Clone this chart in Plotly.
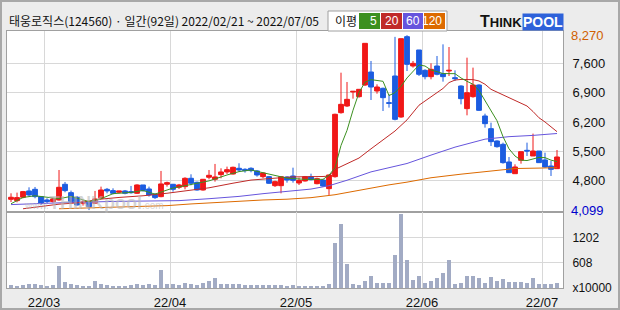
import plotly.graph_objects as go

# ---------------- data ----------------
month_days = {
    "2022-02": [21, 22, 23, 24, 25, 28],
    "2022-03": [2, 3, 4, 7, 8, 10, 11, 14, 15, 16, 17, 18, 21, 22, 23, 24, 25, 28, 29, 30, 31],
    "2022-04": [1, 4, 5, 6, 7, 8, 11, 12, 13, 14, 15, 18, 19, 20, 21, 22, 25, 26, 27, 28, 29],
    "2022-05": [2, 3, 4, 6, 9, 10, 11, 12, 13, 16, 17, 18, 19, 20, 23, 24, 25, 26, 27, 30, 31],
    "2022-06": [2, 3, 7, 8, 9, 10, 13, 14, 15, 16, 17, 20, 21, 22, 23, 24, 27, 28, 29, 30],
    "2022-07": [1, 4, 5],
}
month_labels = ["22/03", "22/04", "22/05", "22/06", "22/07"]

opens = [4356, 4324, 4404, 4555, 4594, 4420, 4340, 4300, 4340, 4714,
         4515, 4404, 4261, 4284, 4261, 4380, 4594, 4563, 4523, 4555,
         4539, 4499, 4698, 4602, 4475, 4420, 4714, 4714, 4642, 4658,
         4857, 4761, 4578, 4881, 4833, 4944, 5008, 4960, 5095, 5071,
         5095, 5032, 4896, 4896, 4681, 4681, 4888, 4912, 4745, 4793,
         4896, 4729, 4816, 4610, 4896, 6422, 6581, 6915, 6804, 7082,
         7392, 6939, 7003, 6661, 7297, 6319, 8235, 7535, 7917, 7432,
         7281, 7535, 7352, 7416, 7257, 7058, 6518, 6804, 7082, 6343,
         6041, 5747, 5667, 5246, 4967, 5286, 5524, 5389, 5508, 5294,
         5150, 5087]
highs = [4499, 4515, 4555, 4642, 4650, 4435, 4380, 4380, 5055, 4769,
         4563, 4435, 4340, 4316, 4555, 4658, 4626, 4618, 4555, 4578,
         4674, 4714, 4698, 4658, 4499, 5032, 4777, 4722, 4722, 4881,
         4952, 4777, 4841, 5055, 5199, 5095, 5135, 5135, 5215, 5095,
         5119, 5055, 5000, 4913, 4800, 4904, 4904, 5110, 4872, 4912,
         4967, 4872, 4832, 4952, 6398, 7376, 7154, 6931, 6979, 8076,
         7655, 7098, 7019, 6860, 8230, 8187, 8270, 7655, 7917, 7456,
         7599, 7774, 8052, 7988, 7432, 7074, 7734, 7496, 7098, 6398,
         6184, 5763, 5707, 5365, 5190, 5492, 5707, 5922, 5508, 5468,
         5270, 5532]
lows = [4292, 4284, 4380, 4420, 4380, 4221, 4261, 4276, 4324, 4523,
        4276, 4205, 4205, 4099, 4245, 4356, 4499, 4475, 4499, 4475,
        4491, 4483, 4539, 4420, 4364, 4404, 4658, 4539, 4602, 4594,
        4690, 4563, 4563, 4833, 4777, 4857, 4960, 4944, 5016, 4992,
        5000, 4896, 4857, 4722, 4650, 4498, 4753, 4753, 4697, 4780,
        4808, 4713, 4649, 4459, 4872, 6398, 6557, 6756, 6780, 7058,
        6724, 6875, 6462, 6542, 6239, 6300, 7416, 7496, 7297, 7217,
        7217, 7313, 7162, 7297, 7178, 6621, 6359, 6780, 6462, 6065,
        5627, 5588, 5206, 4991, 4967, 5206, 5389, 5389, 5230, 5111,
        4912, 5087]
closes = [4404, 4396, 4539, 4459, 4420, 4261, 4300, 4364, 4642, 4563,
          4300, 4221, 4284, 4181, 4364, 4578, 4555, 4499, 4555, 4499,
          4515, 4698, 4563, 4459, 4396, 4722, 4753, 4594, 4698, 4857,
          4738, 4578, 4833, 4928, 4889, 5008, 5063, 5119, 5055, 5040,
          5040, 4936, 4984, 4738, 4777, 4896, 4816, 4808, 4808, 4896,
          4824, 4848, 4673, 4936, 6383, 6621, 6740, 6931, 6979, 8076,
          7034, 7034, 6780, 6645, 6263, 8187, 7575, 7599, 7337, 7281,
          7456, 7337, 7281, 7432, 7233, 6756, 6899, 7082, 6478, 6160,
          5731, 5611, 5230, 4991, 5127, 5492, 5508, 5508, 5230, 5127,
          5071, 5365]
volumes = [64, 40, 64, 88, 88, 64, 40, 64, 520, 136,
           88, 64, 40, 40, 160, 88, 64, 40, 40, 40,
           64, 88, 64, 88, 64, 424, 88, 88, 64, 112,
           88, 64, 112, 160, 232, 88, 88, 88, 88, 64,
           64, 64, 64, 64, 64, 64, 40, 64, 40, 40,
           40, 40, 40, 88, 1072, 1528, 568, 88, 64, 160,
           280, 112, 112, 112, 784, 1768, 664, 184, 280, 112,
           160, 232, 352, 664, 88, 112, 280, 280, 232, 112,
           256, 160, 208, 136, 136, 136, 112, 232, 88, 88,
           88, 112]

# moving averages (bar index, price)
ma5_x = [0, 1, 2, 4, 6, 8, 10, 12, 13, 15, 17, 20, 22, 24, 25, 27, 29, 31, 33, 36,
         38, 40, 42, 44, 46, 49, 52, 53, 54, 55, 56, 57, 58, 59, 60, 62, 63, 64, 65, 66,
         67, 68, 69, 70, 71, 72, 74, 75, 76, 77, 78, 79, 80, 81, 82, 83, 84, 85, 86, 87,
         88, 89, 90, 91]
ma5_y = [4250, 4330, 4400, 4440, 4410, 4370, 4425, 4330, 4300, 4370, 4490, 4520, 4565, 4480, 4530, 4625, 4680, 4737, 4795, 4936,
         5016, 5055, 4990, 4910, 4860, 4832, 4832, 4930, 5110, 5640, 6000, 6480, 6900, 7150, 7210, 7170, 6830, 6900, 7050, 7250,
         7400, 7560, 7535, 7440, 7400, 7355, 7352, 7250, 7170, 7100, 6950, 6700, 6460, 6230, 5850, 5560, 5389, 5290, 5280, 5325,
         5355, 5350, 5290, 5254]
ma20_x = [2, 5, 8, 11, 15, 18, 22, 26, 30, 33, 37, 40, 44, 47, 52, 53, 54, 56, 58, 60,
          62, 64, 66, 68, 70, 71, 72, 73, 74, 75, 76, 77, 78, 79, 80, 82, 83, 85, 86, 87,
          88, 89, 90, 91]
ma20_y = [4130, 4181, 4240, 4270, 4360, 4400, 4440, 4500, 4580, 4630, 4740, 4815, 4860, 4890, 4900, 4910, 5070, 5200, 5340, 5560,
          5780, 5985, 6250, 6600, 6800, 6900, 7000, 7140, 7200, 7215, 7217, 7210, 7178, 7100, 6979, 6840, 6780, 6640, 6581, 6450,
          6300, 6200, 6080, 5969]
ma60_x = [0, 2, 9, 17, 23, 28, 33, 38, 42, 46, 50, 53, 56, 60, 63, 66, 70, 74, 79, 83, 87, 91]
ma60_y = [4230, 4244, 4276, 4305, 4315, 4324, 4370, 4425, 4490, 4545, 4600, 4680, 4810, 5010, 5110, 5210, 5410, 5600, 5790, 5850, 5880, 5925]
ma120_x = [8, 14, 20, 23, 26, 30, 34, 38, 42, 46, 50, 54, 57, 60, 63, 66, 70, 75, 80, 84, 88, 91]
ma120_y = [4130, 4150, 4175, 4195, 4205, 4245, 4280, 4310, 4340, 4358, 4395, 4465, 4545, 4630, 4700, 4765, 4870, 4955, 5030, 5090, 5100, 5111]

price_ticks = [4800, 5500, 6200, 6900, 7600]
max_high, min_low = 8270, 4099
vol_ticks = [0, 608, 1202]
vol_labels = ["x10000", "608", "1202"]

# ---------------- derived ----------------
dates = [f"{m}-{d:02d}" for m, days in month_days.items() for d in days]
x = list(range(len(dates)))
month_starts = []
for m in list(month_days.keys())[1:]:
    month_starts.append(next(i for i, dt in enumerate(dates) if dt.startswith(m)) - 0.5)

RED = "#F01818"
BLUE = "#1C5CE0"
VOL = "#A2ABC4"
GRID = "#D8D8D8"
BORDER = "#A0A0A0"
C5, C20, C60, C120 = "#3C9020", "#C02A28", "#6655DD", "#DD6A00"
NUMFONT = "Liberation Sans"
KRFONT = "Noto Sans CJK KR"

fig = go.Figure()
for mx, my, col in [(ma120_x, ma120_y, C120), (ma60_x, ma60_y, C60),
                    (ma20_x, ma20_y, C20), (ma5_x, ma5_y, C5)]:
    fig.add_trace(go.Scatter(x=mx, y=my, mode="lines", line=dict(color=col, width=1),
                             xaxis="x", yaxis="y", hoverinfo="skip"))
fig.add_trace(go.Candlestick(
    x=x, open=opens, high=highs, low=lows, close=closes,
    increasing=dict(line=dict(color=RED, width=1), fillcolor=RED),
    decreasing=dict(line=dict(color=BLUE, width=1), fillcolor=BLUE),
    whiskerwidth=0, xaxis="x", yaxis="y"))
fig.add_trace(go.Bar(x=x, y=volumes, marker=dict(color=VOL, line=dict(width=0)),
                     width=0.78, xaxis="x2", yaxis="y2"))

W, H = 620, 310
L, R, T, B = 7, 57, 31, 22
pw, ph = W - L - R, H - T - B
def px(xp):
    return (xp - L) / pw
def py(yp):
    return (H - B - yp) / ph

vol_frac = 76 / ph
price_range = [4053, 8370]

axis_common = dict(showline=True, linecolor=BORDER, linewidth=1, mirror=True, automargin=False,
                   zeroline=False, gridcolor=GRID, gridwidth=1, ticks="")
fig.update_layout(
    template="none",
    width=W, height=H, margin=dict(l=L, r=R, t=T, b=B, pad=0),
    paper_bgcolor="#ECECEC", plot_bgcolor="white", showlegend=False,
    bargap=0, boxgap=0.2, boxgroupgap=0,
    xaxis=dict(domain=[0, 1], anchor="y", range=[-0.67, 92], tickvals=month_starts,
               showticklabels=False, showgrid=True, rangeslider=dict(visible=False),
               **axis_common),
    yaxis=dict(domain=[vol_frac, 1], anchor="x", range=price_range, side="right",
               tickvals=price_ticks, ticktext=[f"{v:,}" for v in price_ticks],
               tickfont=dict(family=NUMFONT, size=13, color="#111111"),
               ticklabelstandoff=6, showgrid=True, **axis_common),
    xaxis2=dict(domain=[0, 1], anchor="y2", matches="x", range=[-0.67, 92],
                tickvals=month_starts, ticktext=month_labels, showgrid=True,
                tickfont=dict(family=NUMFONT, size=13, color="#111111"),
                ticklabelstandoff=2,
                rangeslider=dict(visible=False), **axis_common),
    yaxis2=dict(domain=[0, vol_frac], anchor="x2", range=[0, 1812], side="right",
                tickvals=vol_ticks, ticktext=vol_labels, showgrid=True,
                tickfont=dict(family=NUMFONT, size=12, color="#111111"),
                ticklabelstandoff=6, **axis_common),
)

shapes = []
annotations = []
# extreme price labels on the price scale
for val, col in [(max_high, "#D06000"), (min_low, "#0000CC")]:
    annotations.append(dict(xref="paper", yref="y", x=1, y=val, xanchor="left", yanchor="middle",
                            xshift=6, text=f"{val:,}", showarrow=False,
                            font=dict(family=NUMFONT, size=13, color=col)))
# outer frame
shapes.append(dict(type="rect", xref="paper", yref="paper", x0=px(1), x1=px(619), y0=py(1), y1=py(309),
                   line=dict(color="#A8A8A8", width=2), fillcolor="rgba(0,0,0,0)", layer="below"))
# title
annotations.append(dict(xref="paper", yref="paper", x=px(7), y=py(21), xanchor="left", yanchor="middle",
                        text="태웅로직스(124560) · 일간(92일) 2022/02/21 ~ 2022/07/05", showarrow=False,
                        font=dict(family=KRFONT, size=12, color="#111111")))
# MA legend box
shapes.append(dict(type="rect", xref="paper", yref="paper", x0=px(328), x1=px(447), y0=py(31), y1=py(11),
                   line=dict(color="#A0A0A0", width=1), fillcolor="white"))
annotations.append(dict(xref="paper", yref="paper", x=px(346), y=py(21), xanchor="center", yanchor="middle",
                        text="이평", showarrow=False, font=dict(family=KRFONT, size=12, color="#111111")))
legend_items = [("5", C5, 359, 380), ("20", C20, 381, 402), ("60", C60, 403, 423), ("120", C120, 424, 445)]
for lab, col, a, b in legend_items:
    shapes.append(dict(type="rect", xref="paper", yref="paper", x0=px(a), x1=px(b), y0=py(29), y1=py(13),
                       line=dict(width=0), fillcolor=col))
    annotations.append(dict(xref="paper", yref="paper", x=px(b - 1), y=py(21), xanchor="right", yanchor="middle",
                            text=lab, showarrow=False, font=dict(family=NUMFONT, size=12, color="white")))
# THINKPOOL logo
annotations.append(dict(xref="paper", yref="paper", x=px(524), y=py(22), xanchor="right", yanchor="middle",
                        text="<b><span style='font-size:16px'>T</span>HINK</b>", showarrow=False,
                        font=dict(family="Liberation Sans", size=13, color="#111111")))
annotations.append(dict(xref="paper", yref="paper", x=px(543), y=py(22), xanchor="center", yanchor="middle",
                        text="<b>POOL</b>", showarrow=False, bgcolor="#2E62DA", borderpad=0,
                        font=dict(family="Liberation Sans", size=14, color="white")))
# watermark
annotations.append(dict(xref="paper", yref="paper", x=px(94), y=py(203), xanchor="center", yanchor="middle",
                        text="<span style='font-size:10px'>www.</span><b>THINKpool</b><span style='font-size:10px'>.com</span>",
                        showarrow=False, font=dict(family="Liberation Sans", size=18, color="rgba(185,185,185,0.6)")))

fig.update_layout(shapes=shapes, annotations=annotations)
fig.write_html("out.html")
